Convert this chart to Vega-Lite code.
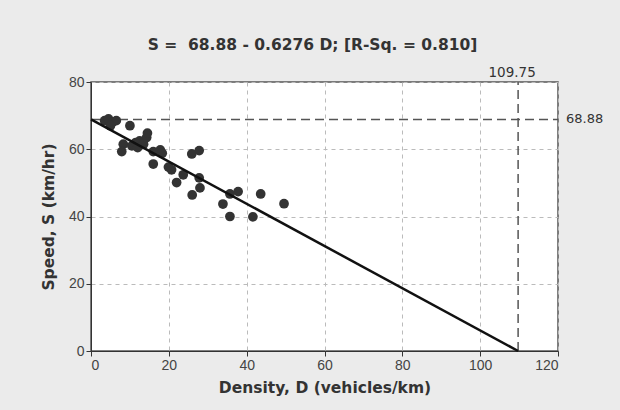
{
  "$schema": "https://vega.github.io/schema/vega-lite/v6.json",
  "autosize": {"type": "none"},
  "width": 467,
  "height": 269,
  "padding": {"left": 91, "top": 82, "right": 62, "bottom": 59},
  "background": "#ebebeb",
  "title": {
    "text": "S =\u00a0 68.88 - 0.6276 D; [R-Sq. = 0.810]",
    "font": "DejaVu Sans",
    "fontSize": 15.5,
    "fontWeight": "bold",
    "color": "#333333",
    "anchor": "middle",
    "offset": 13,
    "dx": -12
  },
  "config": {
    "view": {"fill": "white", "stroke": "#555555", "strokeWidth": 1.5},
    "axis": {
      "grid": true,
      "gridDash": [4, 4],
      "gridColor": "#bbbbbb",
      "gridWidth": 1,
      "domainColor": "#333333",
      "tickColor": "#333333",
      "tickSize": 5,
      "labelColor": "#444444",
      "labelFont": "Liberation Sans",
      "labelFontSize": 14,
      "titleFont": "DejaVu Sans",
      "titleFontSize": 15.5,
      "titleFontWeight": "bold",
      "titleColor": "#333333"
    }
  },
  "datasets": {
    "pts": [
      {"D": 3.5, "S": 68.5}, {"D": 4.5, "S": 69.0}, {"D": 5.5, "S": 68.0}, {"D": 6.5, "S": 68.5},
      {"D": 5.0, "S": 67.0}, {"D": 10.0, "S": 67.0}, {"D": 8.3, "S": 61.5}, {"D": 7.9, "S": 59.3},
      {"D": 10.5, "S": 61.0}, {"D": 11.5, "S": 62.0}, {"D": 12.5, "S": 62.5}, {"D": 13.5, "S": 61.5},
      {"D": 14.3, "S": 63.5}, {"D": 14.5, "S": 64.8}, {"D": 12.0, "S": 60.5}, {"D": 16.0, "S": 59.3},
      {"D": 16.0, "S": 55.6}, {"D": 17.8, "S": 59.8}, {"D": 18.3, "S": 58.8}, {"D": 19.9, "S": 54.7},
      {"D": 20.7, "S": 53.9}, {"D": 22.0, "S": 50.1}, {"D": 23.7, "S": 52.4}, {"D": 25.9, "S": 58.6},
      {"D": 27.8, "S": 59.6}, {"D": 27.8, "S": 51.5}, {"D": 28.0, "S": 48.5}, {"D": 26.0, "S": 46.4},
      {"D": 33.9, "S": 43.7}, {"D": 35.7, "S": 46.7}, {"D": 37.8, "S": 47.4}, {"D": 35.7, "S": 40.0},
      {"D": 41.6, "S": 39.9}, {"D": 43.6, "S": 46.7}, {"D": 49.6, "S": 43.8}
    ],
    "fit": [{"D": 0, "S": 68.88}, {"D": 109.75, "S": 0}],
    "hline": [{"D": 0, "D2": 120, "S": 68.88}],
    "vline": [{"D": 109.75, "S": 0, "S2": 80}],
    "lab": [
      {"D": 109.75, "S": 80, "t": "109.75", "pos": "top"},
      {"D": 120, "S": 68.88, "t": "68.88", "pos": "right"}
    ]
  },
  "encoding": {
    "x": {
      "field": "D", "type": "quantitative",
      "scale": {"domain": [0, 120], "nice": false},
      "axis": {"values": [0, 20, 40, 60, 80, 100, 120], "title": "Density, D (vehicles/km)", "titlePadding": 8}
    },
    "y": {
      "field": "S", "type": "quantitative",
      "scale": {"domain": [0, 80], "nice": false},
      "axis": {"values": [0, 20, 40, 60, 80], "title": "Speed, S (km/hr)", "titlePadding": 12}
    }
  },
  "layer": [
    {
      "data": {"name": "hline"},
      "mark": {"type": "rule", "color": "#555555", "strokeWidth": 1.5, "strokeDash": [9, 5]},
      "encoding": {"x2": {"field": "D2"}}
    },
    {
      "data": {"name": "vline"},
      "mark": {"type": "rule", "color": "#555555", "strokeWidth": 1.5, "strokeDash": [9, 5]},
      "encoding": {"y2": {"field": "S2"}}
    },
    {
      "data": {"name": "pts"},
      "mark": {"type": "circle", "size": 95, "color": "#333333", "opacity": 1}
    },
    {
      "data": {"name": "fit"},
      "mark": {"type": "line", "color": "#111111", "strokeWidth": 2.5}
    },
    {
      "data": {"name": "lab"},
      "transform": [{"filter": "datum.pos == 'top'"}],
      "mark": {"type": "text", "dy": -2, "font": "DejaVu Sans", "fontSize": 13.5, "color": "#333333", "baseline": "bottom", "dx": -6},
      "encoding": {"text": {"field": "t"}}
    },
    {
      "data": {"name": "lab"},
      "transform": [{"filter": "datum.pos == 'right'"}],
      "mark": {"type": "text", "dx": 8, "font": "DejaVu Sans", "fontSize": 13, "color": "#333333", "align": "left", "baseline": "middle"},
      "encoding": {"text": {"field": "t"}}
    }
  ]
}
